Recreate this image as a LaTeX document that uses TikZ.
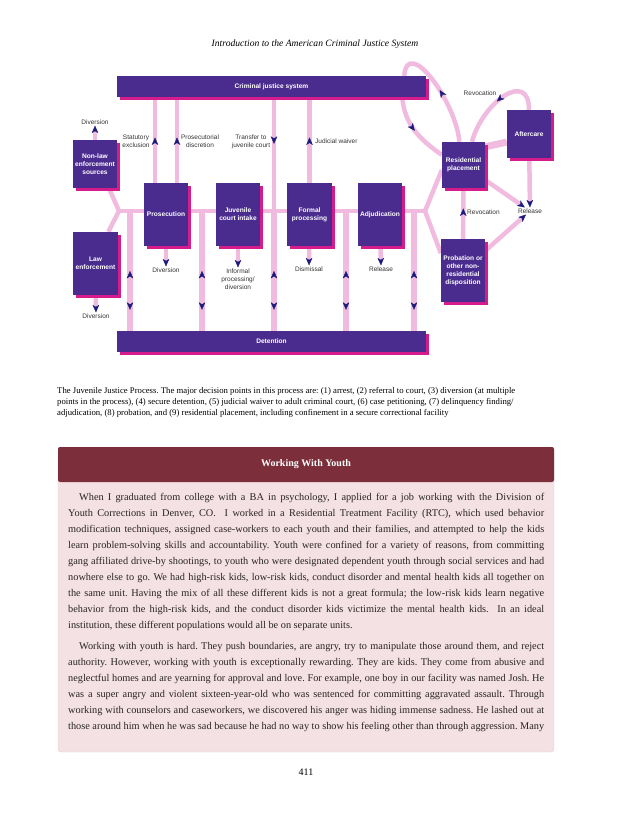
\documentclass[tikz,border=0pt]{standalone}
\usepackage{fontspec}
\setmainfont{Liberation Serif}
\newfontfamily\diagfont{Liberation Sans}
\usetikzlibrary{arrows.meta, shadows, decorations.markings, backgrounds}
\frenchspacing

\definecolor{boxpurple}{RGB}{74,44,143}
\definecolor{shadowpink}{RGB}{214,28,140}
\definecolor{linkpink}{RGB}{241,187,224}
\definecolor{arrownavy}{RGB}{28,26,122}
\definecolor{labelgray}{RGB}{51,51,51}
\definecolor{panelred}{RGB}{124,47,59}
\definecolor{panelpink}{RGB}{244,225,228}
\definecolor{panelrim}{RGB}{228,210,214}
\definecolor{bodytext}{RGB}{40,36,36}

\begin{document}
\begin{tikzpicture}[x=1pt, y=-1pt,
  >={Stealth[length=7.5pt, width=6.5pt, inset=2pt, line width=0.3pt, color=arrownavy]},
  stage/.style={rectangle, fill=boxpurple, text=white, align=center, inner sep=1pt,
    font=\diagfont\bfseries\fontsize{6.6}{8}\selectfont,
    drop shadow={shadow xshift=3pt, shadow yshift=-3pt, fill=shadowpink, opacity=1}},
  note/.style={font=\diagfont\fontsize{6.5}{8}\selectfont, text=labelgray, align=center, inner sep=1pt},
  link/.style={draw=linkpink, line width=4.5pt},
  widelink/.style={draw=linkpink, line width=7pt},
  holdlink/.style={draw=linkpink, line width=6pt},
  midtip/.style={postaction={decorate, decoration={markings, mark=at position #1 with {\arrow{>}}}}},
  backtip/.style={postaction={decorate, decoration={markings, mark=at position #1 with {\arrowreversed{>}}}}}]
  \useasboundingbox (0,0) rectangle (630,815);

  % Running head
  \node (runninghead) [font=\itshape\fontsize{9.6}{11}\selectfont] at (315,44) {Introduction to the American Criminal Justice System};

  % Create the stage boxes
  \node (criminaljustice) [stage, minimum width=309pt, minimum height=21pt] at (271.5,86.5) {Criminal justice system};
  \node (nonlaw) [stage, minimum width=44pt, minimum height=48pt] at (95,164) {Non-law\\enforcement\\sources};
  \node (lawenforcement) [stage, minimum width=45pt, minimum height=63pt] at (95.5,263.5) {Law\\enforcement};
  \node (prosecution) [stage, minimum width=44pt, minimum height=63pt] at (166,214.5) {Prosecution};
  \node (intake) [stage, minimum width=44pt, minimum height=63pt] at (238,214.5) {Juvenile\\court intake};
  \node (formalprocessing) [stage, minimum width=45pt, minimum height=63pt] at (309.5,214.5) {Formal\\processing};
  \node (adjudication) [stage, minimum width=44pt, minimum height=63pt] at (380,214.5) {Adjudication};
  \node (detention) [stage, minimum width=309pt, minimum height=21pt] at (271.5,341.5) {Detention};
  \node (residential) [stage, minimum width=43pt, minimum height=46pt] at (463.5,165) {Residential\\placement};
  \node (aftercare) [stage, minimum width=44pt, minimum height=48pt] at (529,134) {Aftercare};
  \node (probation) [stage, minimum width=44pt, minimum height=63pt] at (463,270.5) {Probation or\\other non-\\residential\\disposition};

  % Create the outcome labels
  \node (nonlawdiversion) [note] at (95,122) {Diversion};
  \node (lawdiversion) [note] at (96,316) {Diversion};
  \node (prosdiversion) [note] at (166,270) {Diversion};
  \node (informal) [note] at (238,279) {Informal\\processing/\\diversion};
  \node (dismissal) [note] at (309,269) {Dismissal};
  \node (release) [note] at (381,269) {Release};
  \node (statutory) [note] at (136,141) {Statutory\\exclusion};
  \node (prosecutorial) [note] at (200,141) {Prosecutorial\\discretion};
  \node (transfer) [note] at (251,142) {Transfer to\\juvenile court};
  \node (waiver) [note, anchor=west] at (314,141) {Judicial waiver};
  \node (revocationtop) [note] at (480,93) {Revocation};
  \node (revocationlow) [note, anchor=west] at (466,212) {Revocation};
  \node (finalrelease) [note] at (530,211) {Release};

  % Junctions on the main line
  \coordinate (leftfork) at (119,211);
  \coordinate (rightfork) at (425,211);
  \coordinate (hold1) at (130,211);
  \coordinate (hold2) at (202,211);
  \coordinate (hold3) at (274,211);
  \coordinate (hold4) at (346,211);
  \coordinate (hold5) at (414,211);
  \coordinate (statutoryline) at ([xshift=-11pt]prosecution.north);
  \coordinate (discretionline) at ([xshift=11pt]prosecution.north);
  \coordinate (cjsout) at ([xshift=-24pt]criminaljustice.south east);
  \coordinate (cjsin) at ([xshift=-22pt]criminaljustice.north east);

  % Draw the flow lines
  \begin{scope}[on background layer]
    \draw [link] (nonlaw.-60) -- (leftfork) -- (lawenforcement.68);
    \draw [link] (leftfork) -- (rightfork);
    \draw [link] (residential.193) -- (rightfork) -- (probation.142);

    \foreach \i in {1,...,5}
      \draw [holdlink, backtip=0.5, midtip=0.825] (hold\i) -- (hold\i |- detention.north);

    \draw [link, midtip=0.53] (statutoryline) -- (statutoryline |- criminaljustice.south);
    \draw [link, midtip=0.53] (discretionline) -- (discretionline |- criminaljustice.south);
    \draw [link, midtip=0.41] (hold3 |- criminaljustice.south) -- (hold3);
    \draw [link, midtip=0.53] (formalprocessing.north) -- (formalprocessing.north |- criminaljustice.south);

    \draw [link, ->] (nonlaw) -- (nonlawdiversion);
    \draw [link, ->] (lawenforcement) -- (lawdiversion);
    \draw [link, ->] (prosecution) -- (prosdiversion);
    \draw [link, ->] (intake) -- (informal);
    \draw [link, ->] (formalprocessing) -- (dismissal);
    \draw [link, ->] (adjudication) -- (release);

    \draw [link, midtip=0.5] (cjsout) to[out=-85, in=145] (residential.155);
    \draw [link, midtip=0.5] (residential.100) to[out=95, in=85, looseness=1.2] (cjsin);
    \draw [link, midtip=0.5] (aftercare.north) to[out=90, in=75, looseness=1.6] (residential.70);
    \draw [widelink] (residential.40) -- (aftercare.200);
    \draw [link, midtip=0.6] (probation) -- (residential);
    \draw [link, ->] (residential) -- (finalrelease);
    \draw [link, ->] (aftercare) -- (finalrelease);
    \draw [link, ->] (probation) -- (finalrelease);
  \end{scope}

  % Caption
  \node (caption) [anchor=north west, align=left, inner sep=0pt, font=\fontsize{8.7}{11}\selectfont] at (57,387)
    {The Juvenile Justice Process. The major decision points in this process are: (1) arrest, (2) referral to court, (3) diversion (at multiple\\
     points in the process), (4) secure detention, (5) judicial waiver to adult criminal court, (6) case petitioning, (7) delinquency finding/\\
     adjudication, (8) probation, and (9) residential placement, including confinement in a secure correctional facility};

  % Draw the text panel
  \node (panel) [fill=panelpink, draw=panelrim, rounded corners=3pt, minimum width=496pt, minimum height=305pt] at (306,599.5) {};
  \node (paneltitle) [fill=panelred, rounded corners=2pt, minimum width=496pt, minimum height=35pt, text=white,
    font=\bfseries\fontsize{10}{12}\selectfont] at (306,464.5) {Working With Youth};
  \node (paneltext) [anchor=north west, text width=476pt, align=justify, inner sep=0pt, text=bodytext,
    font=\fontsize{10.3}{16}\selectfont] at (68,493)
    {\parindent=0pt\hyphenpenalty=10000
     \hspace*{11pt}When I graduated from college with a BA in psychology, I applied for a job working with the Division of\linebreak
     Youth Corrections in Denver, CO. \ I worked in a Residential Treatment Facility (RTC), which used behavior\linebreak
     modification techniques, assigned case-workers to each youth and their families, and attempted to help the kids\linebreak
     learn problem-solving skills and accountability. Youth were confined for a variety of reasons, from committing\linebreak
     gang affiliated drive-by shootings, to youth who were designated dependent youth through social services and had\linebreak
     nowhere else to go. We had high-risk kids, low-risk kids, conduct disorder and mental health kids all together on\linebreak
     the same unit. Having the mix of all these different kids is not a great formula; the low-risk kids learn negative\linebreak
     behavior from the high-risk kids, and the conduct disorder kids victimize the mental health kids. \ In an ideal\linebreak
     institution, these different populations would all be on separate units.\par
     \vspace{5pt}\parfillskip=0pt
     \hspace*{11pt}Working with youth is hard. They push boundaries, are angry, try to manipulate those around them, and reject\linebreak
     authority. However, working with youth is exceptionally rewarding. They are kids. They come from abusive and\linebreak
     neglectful homes and are yearning for approval and love. For example, one boy in our facility was named Josh. He\linebreak
     was a super angry and violent sixteen-year-old who was sentenced for committing aggravated assault. Through\linebreak
     working with counselors and caseworkers, we discovered his anger was hiding immense sadness. He lashed out at\linebreak
     those around him when he was sad because he had no way to show his feeling other than through aggression. Many};

  % Page number
  \node (pagenumber) [font=\fontsize{10}{12}\selectfont] at (306,772) {411};
\end{tikzpicture}
\end{document}
